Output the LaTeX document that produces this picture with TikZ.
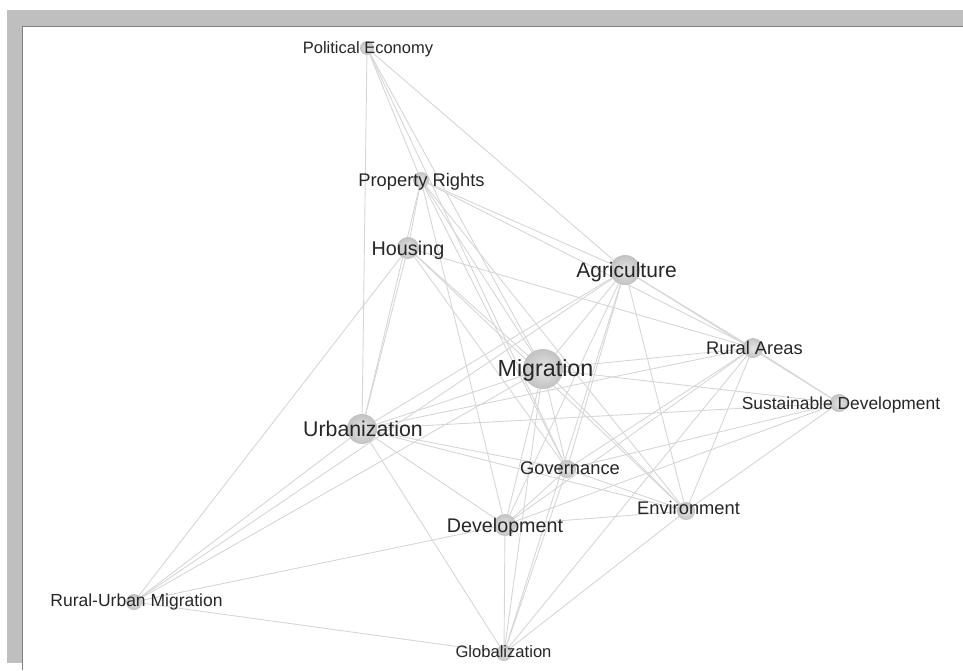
\documentclass[tikz,border=0pt]{standalone}
\usepackage{fontspec}
\setmainfont{Liberation Sans}
\begin{document}
\begin{tikzpicture}[x=1pt,y=-1pt,
  edge/.style={draw=black!16, line width=0.9pt},
  dot/.style={circle, inner sep=0pt, minimum size=#1, shading=radial, inner color=black!10, outer color=black!24},
  lbl/.style={text=black!85, inner sep=0pt, anchor=base},
]
\useasboundingbox (0,0) rectangle (963,670);
% frame
\fill[black!25] (7,10) rectangle (963,26);
\fill[black!25] (7,10) rectangle (22,663);
\draw[black!50, line width=1pt] (22.5,670) -- (22.5,26.5) -- (963,26.5);

% node centres
\coordinate (pe) at (367,48);
\coordinate (pr) at (421,180);
\coordinate (ho) at (408,248);
\coordinate (ag) at (625,270);
\coordinate (ra) at (753,348);
\coordinate (mi) at (543,369);
\coordinate (sd) at (839,403);
\coordinate (ur) at (362,429);
\coordinate (go) at (567,469);
\coordinate (en) at (686,511);
\coordinate (de) at (505,525);
\coordinate (ru) at (134,602);
\coordinate (gl) at (504,653);

% edges
\foreach \a/\b in {pe/pr, pe/ur, pe/mi, pe/go, pe/ag,
  pr/ho, pr/ur, pr/mi, pr/go, pr/en, pr/ag, pr/ra, pr/de,
  ho/ur, ho/ru, ho/mi, ho/go, ho/en, ho/ra,
  ag/ur, ag/ru, ag/mi, ag/go, ag/de, ag/gl, ag/ra, ag/sd, ag/en,
  ra/mi, ra/ur, ra/go, ra/de, ra/en, ra/gl, ra/sd,
  mi/ur, mi/ru, mi/sd, mi/go, mi/en, mi/de, mi/gl,
  sd/ur, sd/go, sd/en, sd/de,
  ur/go, ur/en, ur/de, ur/gl, ur/ru,
  go/en, go/de, go/gl,
  en/de, en/gl,
  de/ru, de/gl,
  ru/gl}
  \draw[edge] (\a) -- (\b);

% circles
\foreach \n/\s in {pe/14, pr/16, ho/22, ag/30, ra/20, mi/40, sd/18, ur/30, go/18, en/18, de/22, ru/16, gl/16}
  \node[dot=\s pt] (\n-c) at (\n) {};

% labels
\newcommand\lab[5]{\node[lbl, font=\fontsize{#4}{#4}\selectfont] (#1-l) at (#2,{#3+0.358*#4}) {#5};}
\lab{pe}{368}{48}{16.5}{Political Economy}
\lab{pr}{421.5}{180}{18.3}{Property Rights}
\lab{ho}{408}{248}{19.8}{Housing}
\lab{ag}{626.5}{270}{21}{Agriculture}
\lab{ra}{754.5}{348}{18.3}{Rural Areas}
\lab{mi}{545.5}{368}{23.3}{Migration}
\lab{sd}{841}{403}{17.4}{Sustainable Development}
\lab{ur}{363}{429}{21.3}{Urbanization}
\lab{go}{570}{468}{18.3}{Governance}
\lab{en}{688.5}{508}{18.3}{Environment}
\lab{de}{505}{525}{19.7}{Development}
\lab{ru}{136.5}{600}{17.5}{Rural-Urban Migration}
\lab{gl}{503.5}{652}{16.6}{Globalization}
\end{tikzpicture}
\end{document}
